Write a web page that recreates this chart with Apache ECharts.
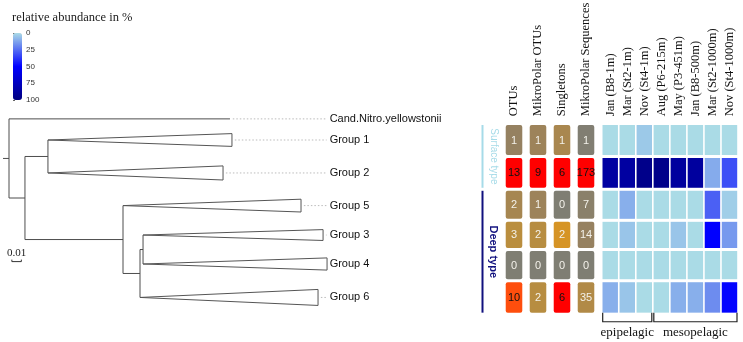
<!DOCTYPE html>
<html>
<head>
<meta charset="utf-8">
<script src="https://cdn.jsdelivr.net/npm/echarts@6/dist/echarts.min.js"></script>
<style>
  html, body { margin: 0; padding: 0; background: #fff; }
  #chart { width: 743px; height: 342px; }
</style>
</head>
<body>
<div id="chart"></div>
<script>
// Arbol: nodos internos, padre y longitud de rama
const treeNodes = ['root', 'A', 'B', 'C', 'D', 'E'];
const treeParents = [null, 'root', 'A', 'A', 'C', 'D'];
const treeBranch = [0, 0.0168, 0.0242, 0.1032, 0.0179, 0.0032];
const rootStub = 0.0063;

// Hojas (grupos colapsados)
const leafNames = ['Cand.Nitro.yellowstonii', 'Group 1', 'Group 2', 'Group 5', 'Group 3', 'Group 4', 'Group 6'];
const leafParents = ['root', 'B', 'B', 'C', 'E', 'E', 'D'];
const leafBranch = [0.2326, 0, 0, 0, 0, 0, 0];
const cladeDepth = [0, 0.1937, 0.1843, 0.1874, 0.1895, 0.1937, 0.1874];
const cladeSpread = [0, 0.2, 0.22, 0.2, 0.17, 0.19, 0.25];
const leafPos = [-0.66, 0, 1.03, 2.05, 2.97, 3.875, 4.92];

// Tabla
const tableCols = ['OTUs', 'MikroPolar OTUs', 'Singletons', 'MikroPolar Sequences'];
const otus = [1, 13, 2, 3, 0, 10];
const mikroOtus = [1, 9, 1, 2, 0, 2];
const singletons = [1, 6, 0, 2, 0, 6];
const mikroSeqs = [1, 173, 7, 14, 0, 35];

// Heatmap: abundancia relativa (%)
const samples = ['Jan (B8-1m)', 'Mar (St2-1m)', 'Nov (St4-1m)', 'Aug (P6-215m)', 'May (P3-451m)', 'Jan (B8-500m)', 'Mar (St2-1000m)', 'Nov (St4-1000m)'];
const abundGroup1 = [0, 0, 4, 0, 0, 0, 0, 0];
const abundGroup2 = [87, 87, 96, 96, 88, 88, 11, 32];
const abundGroup5 = [0, 10, 0, 0, 0, 0, 28, 3];
const abundGroup3 = [0, 5, 0, 0, 5, 0, 50, 15];
const abundGroup4 = [0, 0, 0, 0, 0, 0, 0, 0];
const abundGroup6 = [10, 5, 0, 0, 10, 10, 18, 49];

const habitatNames = ['Surface type', 'Deep type'];
const habitatFirstRow = [0, 2];
const habitatLastRow = [1, 5];

const zoneNames = ['epipelagic', 'mesopelagic'];
const zoneFirstCol = [0, 3];
const zoneLastCol = [2, 7];

const SERIF = '"Liberation Serif", "Times New Roman", serif';
const SANS = '"Liberation Sans", Arial, sans-serif';

// escala vertical comun: px = Y0 + v * YU
const Y0 = 140, YU = 32;
function yBox(min, max) { return { top: Y0 + min * YU, height: (max - min) * YU }; }

const rowPos = leafPos.slice(1);
function rowBounds(i) {
  const n = rowPos.length;
  const top = i === 0 ? rowPos[0] - (rowPos[1] - rowPos[0]) / 2 : (rowPos[i - 1] + rowPos[i]) / 2;
  const bottom = i === n - 1 ? rowPos[i] + (rowPos[i] - rowPos[i - 1]) / 2 : (rowPos[i] + rowPos[i + 1]) / 2;
  return [top, bottom];
}

// posiciones del arbol
const pos = { root: { x: 0 } };
treeNodes.forEach(function (n, i) {
  if (i > 0) pos[n] = { x: pos[treeParents[i]].x + treeBranch[i] };
});
function nodeY(name) {
  if (pos[name].y !== undefined) return pos[name].y;
  const ys = [];
  treeNodes.forEach(function (n, i) { if (treeParents[i] === name) ys.push(nodeY(n)); });
  leafParents.forEach(function (p, i) { if (p === name) ys.push(leafPos[i]); });
  pos[name].ymin = Math.min.apply(null, ys);
  pos[name].ymax = Math.max.apply(null, ys);
  pos[name].y = (pos[name].ymin + pos[name].ymax) / 2;
  return pos[name].y;
}
nodeY('root');

const segs = [];
segs.push([-rootStub, pos.root.y, 0, pos.root.y]);
treeNodes.forEach(function (n, i) {
  const p = pos[n];
  if (i > 0) segs.push([pos[treeParents[i]].x, p.y, p.x, p.y]);
  segs.push([p.x, p.ymin, p.x, p.ymax]);
});
const triangles = [];
const leafEnd = [];
leafNames.forEach(function (name, i) {
  const px = pos[leafParents[i]].x;
  if (leafBranch[i] > 0) segs.push([px, leafPos[i], px + leafBranch[i], leafPos[i]]);
  const start = px + leafBranch[i];
  if (cladeDepth[i] > 0) triangles.push([start, leafPos[i], start + cladeDepth[i], cladeSpread[i]]);
  leafEnd.push(start + cladeDepth[i]);
});
const labelX = 0.3375;

// tabla
const tableValues = [otus, mikroOtus, singletons, mikroSeqs];
const colMax = tableValues.map(function (c) { return Math.max.apply(null, c); });
const tableData = [];
tableValues.forEach(function (col, c) {
  col.forEach(function (v, r) { tableData.push([c, rowPos[r], v, r]); });
});
const tableStops = ['#7f7e73', '#9b825c', '#b08a48', '#d09628', '#e2901e', '#ee7c18',
  '#f66a14', '#fc5810', '#ff4a0c', '#ff2806', '#ff0000'];

// heatmap
const abundance = [abundGroup1, abundGroup2, abundGroup5, abundGroup3, abundGroup4, abundGroup6];
const heatData = [];
abundance.forEach(function (row, r) {
  row.forEach(function (v, c) { heatData.push([c, rowPos[r], v, r]); });
});

const tblBox = yBox(-0.65, 5.5);
const treeBox = yBox(-1, 5.5);

const chart = echarts.init(document.getElementById('chart'));

chart.setOption({
  animation: false,
  title: {
    text: 'relative abundance in %',
    left: 12, top: 11, padding: 0,
    textStyle: { fontFamily: SERIF, fontSize: 12.5, fontWeight: 'normal', color: '#1a1a1a' }
  },
  grid: [
    { left: 9, top: treeBox.top, width: 380, height: treeBox.height, containLabel: false, outerBoundsMode: 'none' },
    { left: 13, top: 33, width: 9, height: 67, containLabel: false, outerBoundsMode: 'none' },
    { left: 502, top: tblBox.top, width: 96, height: tblBox.height, containLabel: false, outerBoundsMode: 'none' },
    { left: 478, top: tblBox.top, width: 20, height: tblBox.height, containLabel: false, outerBoundsMode: 'none' },
    { left: 601.7, top: tblBox.top, width: 136.3, height: tblBox.height, containLabel: false, outerBoundsMode: 'none' }
  ],
  xAxis: [
    { gridIndex: 0, type: 'value', min: 0, max: 0.4, show: false },
    { gridIndex: 1, type: 'value', min: 0, max: 1, show: false },
    {
      gridIndex: 2, type: 'category', data: tableCols, position: 'top',
      axisLine: { show: false }, axisTick: { show: false },
      axisLabel: { rotate: 90, interval: 0, margin: 3, fontFamily: SERIF, fontSize: 12.5, color: '#111' }
    },
    { gridIndex: 3, type: 'value', min: 0, max: 1, show: false },
    {
      gridIndex: 4, type: 'category', data: samples, position: 'top',
      axisLine: { show: false }, axisTick: { show: false },
      axisLabel: { rotate: 90, interval: 0, margin: 3, fontFamily: SERIF, fontSize: 12.5, color: '#111' }
    }
  ],
  yAxis: [
    { gridIndex: 0, type: 'value', inverse: true, min: -1, max: 5.5, show: false },
    {
      gridIndex: 1, type: 'value', inverse: true, min: 0, max: 100, interval: 25, position: 'right',
      axisLine: { show: false }, splitLine: { show: false },
      axisTick: { show: true, length: 2, lineStyle: { color: '#666' } },
      axisLabel: { margin: 4, fontFamily: SANS, fontSize: 8, color: '#333' }
    },
    { gridIndex: 2, type: 'value', inverse: true, min: -0.65, max: 5.5, show: false },
    { gridIndex: 3, type: 'value', inverse: true, min: -0.65, max: 5.5, show: false },
    { gridIndex: 4, type: 'value', inverse: true, min: -0.65, max: 5.5, show: false }
  ],
  visualMap: {
    type: 'continuous', seriesIndex: 7, dimension: 2,
    min: 0, max: 100, inverse: true, calculable: false, hoverLink: false,
    left: 13, top: 33, padding: 0, itemWidth: 9, itemHeight: 67,
    inRange: { color: ['#aadbe6', '#0000ff', '#000080'] }
  },
  series: [
    {
      // ramas
      type: 'custom', xAxisIndex: 0, yAxisIndex: 0, clip: false, data: segs,
      renderItem: function (params, api) {
        const p1 = api.coord([api.value(0), api.value(1)]);
        const p2 = api.coord([api.value(2), api.value(3)]);
        return { type: 'line', shape: { x1: p1[0], y1: p1[1], x2: p2[0], y2: p2[1] },
          style: { stroke: '#4d4d4d', lineWidth: 1 } };
      }
    },
    {
      // triangulos
      type: 'custom', xAxisIndex: 0, yAxisIndex: 0, clip: false, data: triangles,
      renderItem: function (params, api) {
        const y = api.value(1), s = api.value(3);
        const a = api.coord([api.value(0), y]);
        const b1 = api.coord([api.value(2), y - s]);
        const b2 = api.coord([api.value(2), y + s]);
        return { type: 'polygon', shape: { points: [a, b1, b2] },
          style: { fill: '#fff', stroke: '#555', lineWidth: 1 } };
      }
    },
    {
      // etiquetas de hojas
      type: 'custom', xAxisIndex: 0, yAxisIndex: 0, clip: false,
      data: leafPos.map(function (y, i) { return [leafEnd[i], y]; }),
      renderItem: function (params, api) {
        const i = params.dataIndex;
        const y = api.value(1);
        const lp = api.coord([labelX, y]);
        const children = [];
        if (labelX - api.value(0) > 0.006) {
          const ep = api.coord([api.value(0) + 0.003, y]);
          children.push({ type: 'line', shape: { x1: ep[0], y1: ep[1], x2: lp[0] - 3, y2: ep[1] },
            style: { stroke: '#bbb', lineWidth: 1, lineDash: [1.5, 2] } });
        }
        children.push({ type: 'text', style: { text: leafNames[i], x: lp[0], y: lp[1],
          align: 'left', verticalAlign: 'middle', fontFamily: SANS, fontSize: 11, fill: '#111' } });
        return { type: 'group', children: children };
      }
    },
    {
      // barra de escala
      type: 'custom', xAxisIndex: 0, yAxisIndex: 0, clip: false, data: [[0.003, 3.8, 0.01]],
      renderItem: function (params, api) {
        const a = api.coord([api.value(0), api.value(1)]);
        const b = api.coord([api.value(0) + api.value(2), api.value(1)]);
        return { type: 'group', children: [
          { type: 'polyline', shape: { points: [[a[0], a[1] - 2], a, b, [b[0], b[1] - 2]] },
            style: { stroke: '#333', lineWidth: 1, fill: null } },
          { type: 'text', style: { text: '0.01', x: (a[0] + b[0]) / 2, y: a[1] - 8,
            align: 'center', verticalAlign: 'middle', fontFamily: SERIF, fontSize: 11, fill: '#222' } }
        ] };
      }
    },
    { type: 'line', xAxisIndex: 1, yAxisIndex: 1, data: [] },
    {
      // tabla de conteos
      type: 'custom', xAxisIndex: 2, yAxisIndex: 2, clip: false, data: tableData,
      renderItem: function (params, api) {
        const col = api.value(0), v = api.value(2), r = api.value(3);
        const bd = rowBounds(r);
        const cx = api.coord([col, rowPos[r]])[0];
        const top = api.coord([col, bd[0]])[1] + 1.5;
        const bottom = api.coord([col, bd[1]])[1] - 1.5;
        const w = api.size([1, 0])[0] * 0.69;
        const t = v / colMax[col];
        return { type: 'group', children: [
          { type: 'rect', shape: { x: cx - w / 2, y: top, width: w, height: bottom - top, r: 2 },
            style: { fill: echarts.color.lerp(t, tableStops) } },
          { type: 'text', style: { text: String(v), x: cx, y: (top + bottom) / 2 + 0.5,
            align: 'center', verticalAlign: 'middle', fontFamily: SANS, fontSize: 11,
            fill: t > 0.6 ? '#111' : '#f3f1ea' } }
        ] };
      }
    },
    {
      // tipo de habitat
      type: 'custom', xAxisIndex: 3, yAxisIndex: 3, clip: false,
      data: habitatNames.map(function (n, i) { return [habitatFirstRow[i], habitatLastRow[i]]; }),
      renderItem: function (params, api) {
        const i = params.dataIndex;
        const y1 = api.coord([0.225, rowBounds(api.value(0))[0]]);
        const y2 = api.coord([0.225, rowBounds(api.value(1))[1]]);
        const tx = api.coord([0.775, 0])[0];
        const color = i === 0 ? '#a6dbe8' : '#10107e';
        return { type: 'group', children: [
          { type: 'line', shape: { x1: y1[0], y1: y1[1] + 1.5, x2: y2[0], y2: y2[1] - 1.5 },
            style: { stroke: color, lineWidth: 2 } },
          { type: 'text', x: tx, y: (y1[1] + y2[1]) / 2, rotation: -Math.PI / 2,
            style: { text: habitatNames[i], x: 0, y: 0, align: 'center', verticalAlign: 'middle',
              fontFamily: SANS, fontSize: i === 0 ? 10 : 11, fontWeight: i === 0 ? 'normal' : 'bold', fill: color } }
        ] };
      }
    },
    {
      // heatmap
      type: 'custom', xAxisIndex: 4, yAxisIndex: 4, clip: false, data: heatData,
      renderItem: function (params, api) {
        const col = api.value(0), r = api.value(3);
        const bd = rowBounds(r);
        const cx = api.coord([col, rowPos[r]])[0];
        const top = api.coord([col, bd[0]])[1] + 1.5;
        const bottom = api.coord([col, bd[1]])[1] - 1.5;
        const w = api.size([1, 0])[0] - 1.6;
        return { type: 'rect', shape: { x: cx - w / 2, y: top, width: w, height: bottom - top },
          style: { fill: api.visual('color') } };
      }
    },
    {
      // zonas de profundidad
      type: 'custom', xAxisIndex: 4, yAxisIndex: 4, clip: false,
      data: zoneNames.map(function (n, i) { return [zoneFirstCol[i], zoneLastCol[i]]; }),
      renderItem: function (params, api) {
        const i = params.dataIndex;
        const half = api.size([1, 0])[0] / 2;
        const l = api.coord([api.value(0), 5.4])[0] - half + 1;
        const r = api.coord([api.value(1), 5.4])[0] + half - 1;
        const yt = api.coord([0, 5.4])[1];
        const yb = api.coord([0, 5.68])[1];
        const ty = api.coord([0, 6.03])[1];
        return { type: 'group', children: [
          { type: 'polyline', shape: { points: [[l, yt], [l, yb], [r, yb], [r, yt]] },
            style: { stroke: '#222', lineWidth: 1.2, fill: null } },
          { type: 'text', style: { text: zoneNames[i], x: (l + r) / 2, y: ty, align: 'center',
            verticalAlign: 'middle', fontFamily: SERIF, fontSize: 13, fill: '#111' } }
        ] };
      }
    }
  ]
});
</script>
</body>
</html>
